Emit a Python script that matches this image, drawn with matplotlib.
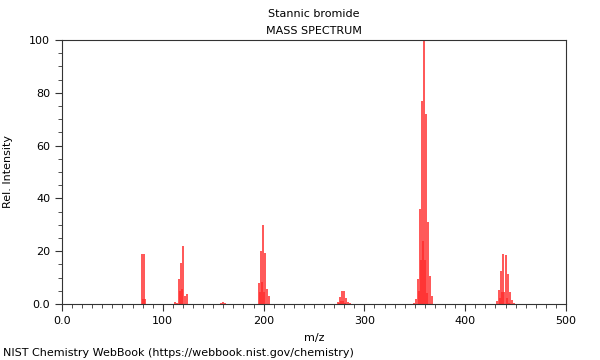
import matplotlib.pyplot as plt
from matplotlib.ticker import MultipleLocator, FuncFormatter

# ---- data: m/z and relative intensity ----
mz_br = [79, 80, 81, 82]
int_br = [19.0, 1.8, 19.0, 1.8]

mz_sn = [112, 114, 116, 117, 118, 119, 120, 122, 124]
int_sn = [0.6, 0.4, 9.5, 5.0, 15.5, 5.5, 22.0, 3.0, 3.8]

mz_br2 = [158, 160, 162]
int_br2 = [0.3, 0.6, 0.3]

mz_snbr = [195, 196, 197, 198, 199, 200, 201, 203, 205]
int_snbr = [8.0, 4.5, 20.0, 8.5, 30.0, 4.5, 19.5, 5.5, 3.0]

mz_snbr2 = [274, 275, 276, 277, 278, 279, 280, 281, 282, 284, 286]
int_snbr2 = [0.9, 0.5, 2.8, 1.3, 5.0, 1.3, 4.8, 0.5, 2.4, 0.9, 0.3]

mz_snbr3 = [349, 351, 353, 354, 355, 356, 357, 358, 359, 360, 361, 362, 363, 365, 367]
int_snbr3 = [0.5, 1.9, 9.5, 4.8, 36.0, 16.5, 77.0, 24.0, 100.0, 16.5, 72.0, 4.3, 31.0, 10.5, 2.9]

mz_snbr4 = [432, 434, 435, 436, 437, 438, 439, 440, 441, 442, 443, 444, 446, 448]
int_snbr4 = [1.3, 5.2, 2.4, 12.5, 4.6, 19.0, 4.5, 18.5, 2.3, 11.5, 0.5, 4.6, 1.5, 0.3]

mz = mz_br + mz_sn + mz_br2 + mz_snbr + mz_snbr2 + mz_snbr3 + mz_snbr4
intensity = int_br + int_sn + int_br2 + int_snbr + int_snbr2 + int_snbr3 + int_snbr4

# ---- plot ----
fig = plt.figure(figsize=(6, 3.6), dpi=100)
ax = fig.add_axes([0.1033, 0.1556, 0.84, 0.7333])

ax.vlines(mz, 0, intensity, colors="#ff2a2a", linewidth=1.3, alpha=0.85)

ax.set_xlim(0, 500)
ax.set_ylim(0, 100)
ax.xaxis.set_major_locator(MultipleLocator(100))
ax.xaxis.set_minor_locator(MultipleLocator(10))
ax.yaxis.set_major_locator(MultipleLocator(20))
ax.yaxis.set_minor_locator(MultipleLocator(5))
ax.xaxis.set_major_formatter(FuncFormatter(lambda v, p: "0.0" if v == 0 else f"{v:.0f}"))
ax.yaxis.set_major_formatter(FuncFormatter(lambda v, p: "0.0" if v == 0 else f"{v:.0f}"))
ax.tick_params(which="major", length=5, width=0.8, labelsize=8, colors="#333333")
ax.tick_params(which="minor", length=3, width=0.6, colors="#333333")
ax.tick_params(labelcolor="black")
for s in ax.spines.values():
    s.set_color("#333333")
    s.set_linewidth(0.8)

ax.set_xlabel("m/z", fontsize=8, labelpad=5)
ax.set_ylabel("Rel. Intensity", fontsize=8, labelpad=12)

fig.text(0.523, 0.962, "Stannic bromide", ha="center", va="center", fontsize=8)
fig.text(0.523, 0.915, "MASS SPECTRUM", ha="center", va="center", fontsize=8)
fig.text(0.005, 0.02, "NIST Chemistry WebBook (https://webbook.nist.gov/chemistry)",
         ha="left", va="center", fontsize=8)

fig.savefig("out.png", dpi=100)
